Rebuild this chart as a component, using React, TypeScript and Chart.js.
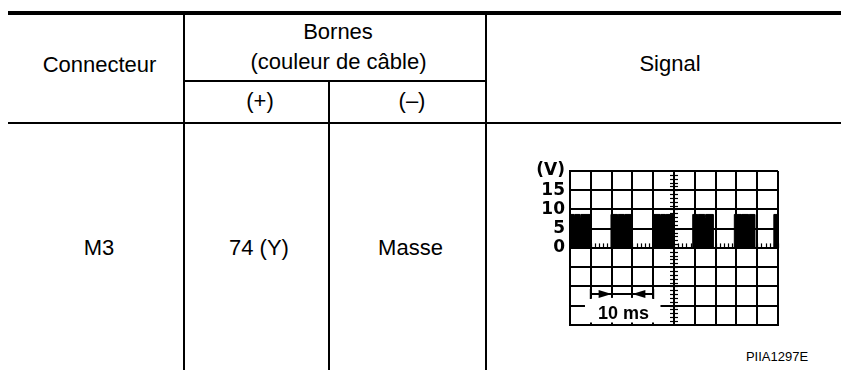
import React, { useEffect, useRef } from "react";
import { Chart, registerables } from "chart.js";

Chart.register(...registerables);

// ---- data (x in graticule divisions, y in volts) ----
const X_MIN = 0;
const X_MAX = 10;
const Y_MIN = -20;
const Y_MAX = 20;
const Y_STEP = 5;
const Y_TICK_LABELS: Record<number, string> = { 20: "(V)", 15: "15", 10: "10", 5: "5", 0: "0" };

const BURST_START = [0.0, 1.97, 3.97, 5.9, 7.9, 9.8];
const BURST_END = [1.0, 2.95, 4.95, 6.88, 8.88, 10.0];
const BURST_TOP = [8.7, 8.7, 8.7, 8.7, 8.7, 8.7];
// downward slits on the top edge of the bursts: [x, low value]
const NOTCH_X = [0.22, 0.5, 2.3, 2.62, 4.35, 4.6, 6.15, 6.5, 8.25, 8.6];
const NOTCH_LOW = [7.4, 7.8, 7.6, 8.0, 7.7, 7.9, 7.5, 7.9, 7.6, 7.8];

const SCALE_LABEL = "10 ms";
const MARKER_FROM = 1; // divisions
const MARKER_TO = 4;
const ARROW_TIP_L = 2;
const ARROW_TIP_R = 3;

const HEAD_CONNECTEUR = "Connecteur";
const HEAD_BORNES = "Bornes";
const HEAD_COULEUR = "(couleur de câble)";
const HEAD_PLUS = "(+)";
const HEAD_MINUS = "(–)";
const HEAD_SIGNAL = "Signal";
const ROW_VALUES = ["M3", "74 (Y)", "Masse"];
const FIG_CODE = "PIIA1297E";

function buildSignal() {
  const pts: { x: number; y: number }[] = [];
  for (let i = 0; i < BURST_START.length; i++) {
    const s = BURST_START[i];
    const e = BURST_END[i];
    const top = BURST_TOP[i];
    pts.push({ x: s, y: 0 });
    pts.push({ x: s, y: top });
    for (let n = 0; n < NOTCH_X.length; n++) {
      const nx = NOTCH_X[n];
      if (nx > s && nx < e) {
        pts.push({ x: nx - 0.02, y: top });
        pts.push({ x: nx, y: NOTCH_LOW[n] });
        pts.push({ x: nx + 0.02, y: top });
      }
    }
    pts.push({ x: e, y: top });
    pts.push({ x: e, y: 0 });
  }
  return pts;
}

const overlay = {
  id: "scopeOverlay",
  afterDraw(chart: any) {
    const { ctx } = chart;
    const xs = chart.scales.x;
    const ys = chart.scales.y;
    ctx.save();
    ctx.strokeStyle = "#000";
    ctx.fillStyle = "#000";
    // minor ticks on centre vertical line
    const cx = Math.round(xs.getPixelForValue((X_MIN + X_MAX) / 2));
    ctx.lineWidth = 1.2;
    for (let v = Y_MIN + 1; v < Y_MAX; v += 1) {
      const y = Math.round(ys.getPixelForValue(v)) + 0.5;
      ctx.beginPath();
      ctx.moveTo(cx - 4, y);
      ctx.lineTo(cx + 4, y);
      ctx.stroke();
    }
    // minor ticks on the 0 V line
    const y0 = ys.getPixelForValue(0);
    for (let d = X_MIN + 0.2; d < X_MAX; d += 0.2) {
      const x = Math.round(xs.getPixelForValue(d)) + 0.5;
      ctx.beginPath();
      ctx.moveTo(x, y0);
      ctx.lineTo(x, y0 - 4.5);
      ctx.stroke();
    }
    // white label box
    const bx1 = xs.getPixelForValue(0.72);
    const bx2 = xs.getPixelForValue(4.35);
    const by1 = ys.getPixelForValue(-13.0);
    const by2 = ys.getPixelForValue(-19.4);
    ctx.fillStyle = "#fff";
    ctx.fillRect(bx1, by1, bx2 - bx1, by2 - by1);
    // label
    ctx.fillStyle = "#000";
    ctx.font = "bold 18px 'Liberation Sans', Arial, sans-serif";
    ctx.textAlign = "center";
    ctx.textBaseline = "middle";
    ctx.fillText(SCALE_LABEL, xs.getPixelForValue(2.57), ys.getPixelForValue(-17.1));
    // arrow marker
    const ay = ys.getPixelForValue(-12);
    const mx1 = xs.getPixelForValue(MARKER_FROM);
    const mx2 = xs.getPixelForValue(MARKER_TO);
    ctx.lineWidth = 2;
    ctx.beginPath();
    ctx.moveTo(mx1, ay);
    ctx.lineTo(mx2, ay);
    ctx.moveTo(mx1, ay - 5);
    ctx.lineTo(mx1, ay + 5);
    ctx.moveTo(mx2, ay - 5);
    ctx.lineTo(mx2, ay + 5);
    ctx.stroke();
    const tl = xs.getPixelForValue(ARROW_TIP_L);
    const tr = xs.getPixelForValue(ARROW_TIP_R);
    ctx.beginPath();
    ctx.moveTo(tl, ay);
    ctx.lineTo(tl - 13, ay - 4);
    ctx.lineTo(tl - 13, ay + 4);
    ctx.closePath();
    ctx.fill();
    ctx.beginPath();
    ctx.moveTo(tr, ay);
    ctx.lineTo(tr + 13, ay - 4);
    ctx.lineTo(tr + 13, ay + 4);
    ctx.closePath();
    ctx.fill();
    ctx.restore();
  },
};

function Scope() {
  const ref = useRef<HTMLCanvasElement | null>(null);
  useEffect(() => {
    if (!ref.current) return;
    const chart = new Chart(ref.current, {
      type: "line",
      data: {
        datasets: [
          {
            data: buildSignal(),
            borderColor: "#000",
            backgroundColor: "#000",
            borderWidth: 1,
            pointRadius: 0,
            fill: "origin",
            tension: 0,
          },
        ],
      },
      options: {
        animation: false,
        responsive: false,
        maintainAspectRatio: false,
        devicePixelRatio: 1,
        layout: { padding: { left: 0, right: 22, top: 31, bottom: 8 } },
        plugins: { legend: { display: false }, tooltip: { enabled: false } },
        scales: {
          x: {
            type: "linear",
            min: X_MIN,
            max: X_MAX,
            ticks: { display: false, stepSize: 1, autoSkip: false },
            grid: { color: "#000", lineWidth: 2, drawTicks: false },
            border: { color: "#000", width: 2 },
          },
          y: {
            type: "linear",
            min: Y_MIN,
            max: Y_MAX,
            afterFit: (s: any) => {
              s.width = 70;
            },
            ticks: {
              stepSize: Y_STEP,
              autoSkip: false,
              padding: 5,
              color: "#000",
              font: { family: "'DejaVu Sans', sans-serif", weight: "bold", size: 17 },
              callback: (v: any) => Y_TICK_LABELS[v as number] ?? "",
            },
            grid: { color: "#000", lineWidth: 2, drawTicks: false },
            border: { color: "#000", width: 2 },
          },
        },
      },
      plugins: [overlay],
    });
    return () => chart.destroy();
  }, []);
  return (
    <canvas
      ref={ref}
      width={300}
      height={200}
      style={{ position: "absolute", left: 500, top: 140, width: 300, height: 200 }}
    />
  );
}

const font = "'Liberation Sans', Arial, Helvetica, sans-serif";

function T({ x, y, text, size = 22 }: { x: number; y: number; text: string; size?: number }) {
  return (
    <span
      style={{
        position: "absolute",
        left: x,
        top: y,
        transform: "translate(-50%, -50%)",
        fontFamily: font,
        fontSize: size,
        color: "#000",
        whiteSpace: "nowrap",
        lineHeight: "normal",
      }}
    >
      {text}
    </span>
  );
}

function L({ x, y, w, h }: { x: number; y: number; w: number; h: number }) {
  return <div style={{ position: "absolute", left: x, top: y, width: w, height: h, background: "#000" }} />;
}

export default function App() {
  return (
    <div style={{ position: "absolute", left: 0, top: 0, width: 841, height: 370, background: "#fff", overflow: "hidden" }}>
      <L x={8} y={11} w={833} h={4} />
      <L x={8} y={122} w={833} h={2} />
      <L x={184} y={80} w={302} h={2} />
      <L x={183} y={15} w={2} h={355} />
      <L x={485} y={15} w={2} h={355} />
      <L x={328} y={81} w={2} h={289} />
      <T x={99.5} y={65} text={HEAD_CONNECTEUR} />
      <T x={338} y={32} text={HEAD_BORNES} />
      <T x={338.5} y={62} text={HEAD_COULEUR} />
      <T x={260} y={101} text={HEAD_PLUS} />
      <T x={412} y={101} text={HEAD_MINUS} />
      <T x={670} y={64} text={HEAD_SIGNAL} />
      <T x={99} y={247.5} text={ROW_VALUES[0]} />
      <T x={259} y={247.5} text={ROW_VALUES[1]} />
      <T x={410.5} y={247.5} text={ROW_VALUES[2]} />
      <Scope />
      <T x={777} y={356} text={FIG_CODE} size={13} />
    </div>
  );
}
